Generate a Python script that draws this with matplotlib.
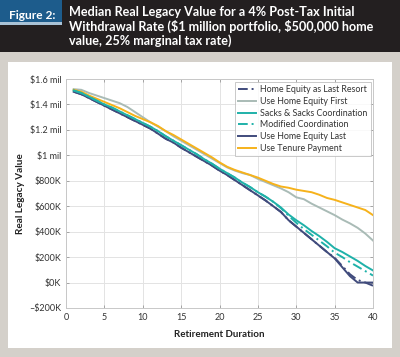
import matplotlib
matplotlib.use("Agg")
import matplotlib.pyplot as plt
from matplotlib.patches import Rectangle

# years and median real legacy value (in $ millions)
years = list(range(1, 41))

last_resort = [1.50, 1.48, 1.45, 1.42, 1.39, 1.36, 1.33, 1.30, 1.27, 1.24,
               1.21, 1.17, 1.13, 1.10, 1.06, 1.025, 0.99, 0.955, 0.92, 0.88,
               0.845, 0.805, 0.765, 0.725, 0.685, 0.645, 0.60, 0.555, 0.49, 0.44,
               0.39, 0.34, 0.29, 0.24, 0.195, 0.13, 0.065, 0.02, 0.0, -0.025]
equity_first = [1.52, 1.515, 1.49, 1.47, 1.45, 1.43, 1.41, 1.38, 1.34, 1.30,
                1.26, 1.225, 1.19, 1.15, 1.115, 1.08, 1.045, 1.01, 0.975, 0.94,
                0.905, 0.88, 0.86, 0.845, 0.815, 0.79, 0.765, 0.74, 0.71, 0.67,
                0.655, 0.62, 0.59, 0.56, 0.53, 0.495, 0.465, 0.43, 0.385, 0.33]
sacks = [1.51, 1.49, 1.46, 1.43, 1.40, 1.375, 1.345, 1.315, 1.285, 1.255,
         1.225, 1.19, 1.15, 1.115, 1.08, 1.045, 1.01, 0.97, 0.935, 0.895,
         0.86, 0.825, 0.785, 0.75, 0.71, 0.675, 0.635, 0.59, 0.535, 0.49,
         0.45, 0.405, 0.365, 0.32, 0.27, 0.24, 0.205, 0.17, 0.13, 0.095]
modified = [1.51, 1.49, 1.46, 1.43, 1.40, 1.375, 1.345, 1.315, 1.285, 1.255,
            1.225, 1.19, 1.15, 1.115, 1.08, 1.045, 1.01, 0.97, 0.935, 0.895,
            0.86, 0.825, 0.785, 0.75, 0.71, 0.675, 0.635, 0.585, 0.525, 0.47,
            0.42, 0.375, 0.33, 0.285, 0.235, 0.20, 0.16, 0.125, 0.09, 0.055]
equity_last = [1.50, 1.48, 1.45, 1.42, 1.39, 1.36, 1.33, 1.30, 1.27, 1.24,
               1.21, 1.17, 1.13, 1.10, 1.06, 1.025, 0.99, 0.955, 0.92, 0.88,
               0.845, 0.805, 0.765, 0.725, 0.685, 0.645, 0.60, 0.555, 0.49, 0.44,
               0.39, 0.34, 0.29, 0.24, 0.19, 0.12, 0.05, 0.0, 0.0, 0.0]
tenure = [1.515, 1.50, 1.47, 1.445, 1.42, 1.395, 1.37, 1.34, 1.31, 1.285,
          1.26, 1.23, 1.19, 1.16, 1.125, 1.09, 1.055, 1.02, 0.985, 0.945,
          0.91, 0.885, 0.865, 0.845, 0.825, 0.80, 0.775, 0.755, 0.745, 0.73,
          0.72, 0.71, 0.69, 0.665, 0.65, 0.63, 0.61, 0.59, 0.57, 0.53]

y_ticks = [1.6, 1.4, 1.2, 1.0, 0.8, 0.6, 0.4, 0.2, 0.0, -0.2]
y_labels = ["$1.6 mil", "$1.4 mil", "$1.2 mil", "$1 mil", "$800K", "$600K",
            "$400K", "$200K", "$0K", "\u2013$200K"]
x_ticks = [0, 5, 10, 15, 20, 25, 30, 35, 40]

navy = "#404b7c"
grey = "#a9bbb6"
teal = "#1fb1a9"
orange = "#f6b21b"

plt.rcParams['font.family'] = ['Lato', 'DejaVu Sans']
plt.rcParams['text.parse_math'] = False

fig = plt.figure(figsize=(4, 3.57), dpi=100, facecolor="#d4d0ca")

# background panels
fig.patches.append(Rectangle((0.02, 0.025), 0.96, 0.801, transform=fig.transFigure,
                             facecolor="white", edgecolor="none", zorder=0))
fig.patches.append(Rectangle((0, 0.8543), 1, 0.1457, transform=fig.transFigure,
                             facecolor="#231f20", edgecolor="none", zorder=0))
fig.patches.append(Rectangle((0, 0.938), 0.155, 0.062, transform=fig.transFigure,
                             facecolor="#1d5c8c", edgecolor="none", zorder=1))
fig.patches.append(Rectangle((0, 0.93), 0.155, 0.008, transform=fig.transFigure,
                             facecolor="#a9c2d6", edgecolor="none", zorder=1))

fig.text(0.08, 0.957, "Figure 2:", color="white", fontsize=8.6, fontweight="bold",
         ha="center", va="center", zorder=3)
fig.text(0.172, 0.982, "Median Real Legacy Value for a 4% Post-Tax Initial\n"
         "Withdrawal Rate ($1 million portfolio, $500,000 home\n"
         "value, 25% marginal tax rate)", color="white", fontsize=9.1,
         fontweight="bold", ha="left", va="top", linespacing=1.12, zorder=3)

ax = fig.add_axes([0.165, 0.1373, 0.7675, 0.6414])
ax.set_zorder(5)

ax.plot(years, equity_first, color=grey, lw=1.4, label="Use Home Equity First")
ax.plot(years, tenure, color=orange, lw=1.4, label="Use Tenure Payment")
ax.plot(years, equity_last, color=navy, lw=1.4, label="Use Home Equity Last")
ax.plot(years, last_resort, color=navy, lw=1.4, ls=(0, (5, 2, 1, 2)),
        label="Home Equity as Last Resort")
ax.plot(years, sacks, color=teal, lw=1.4, label="Sacks & Sacks Coordination")
ax.plot(years, modified, color=teal, lw=1.4, ls=(0, (5, 2, 1, 2)),
        label="Modified Coordination")

ax.set_xlim(0, 40)
ax.set_ylim(-0.2, 1.6)
ax.set_xticks(x_ticks)
ax.set_yticks(y_ticks)
ax.set_yticklabels(y_labels)
ax.grid(True, color="#e3e3e3", lw=0.7)
ax.set_axisbelow(True)
ax.tick_params(direction="in", length=2, width=0.6, color="#999999",
               labelsize=6.5, labelcolor="#333333", top=True, right=True, pad=3.5)
for s in ax.spines.values():
    s.set_color("#c8c8c8")
    s.set_linewidth(0.7)

ax.set_xlabel("Retirement Duration", fontsize=7, fontweight="bold",
              color="#222222", labelpad=6)
ax.set_ylabel("Real Legacy Value", fontsize=7.2, fontweight="bold",
              color="#222222", labelpad=3)

handles, labels = ax.get_legend_handles_labels()
order = ["Home Equity as Last Resort", "Use Home Equity First",
         "Sacks & Sacks Coordination", "Modified Coordination",
         "Use Home Equity Last", "Use Tenure Payment"]
hmap = dict(zip(labels, handles))
leg = ax.legend([hmap[k] for k in order], order, loc="upper right",
                fontsize=6.4, frameon=True, fancybox=False, handlelength=2.0,
                labelspacing=0.3, borderpad=0.4, handletextpad=0.5,
                borderaxespad=0.2, bbox_to_anchor=(1.0, 0.995))
leg.get_frame().set_edgecolor("#bbbbbb")
leg.get_frame().set_linewidth(0.7)
for t in leg.get_texts():
    t.set_color("#333333")

fig.savefig("out.png", dpi=100, facecolor=fig.get_facecolor())
